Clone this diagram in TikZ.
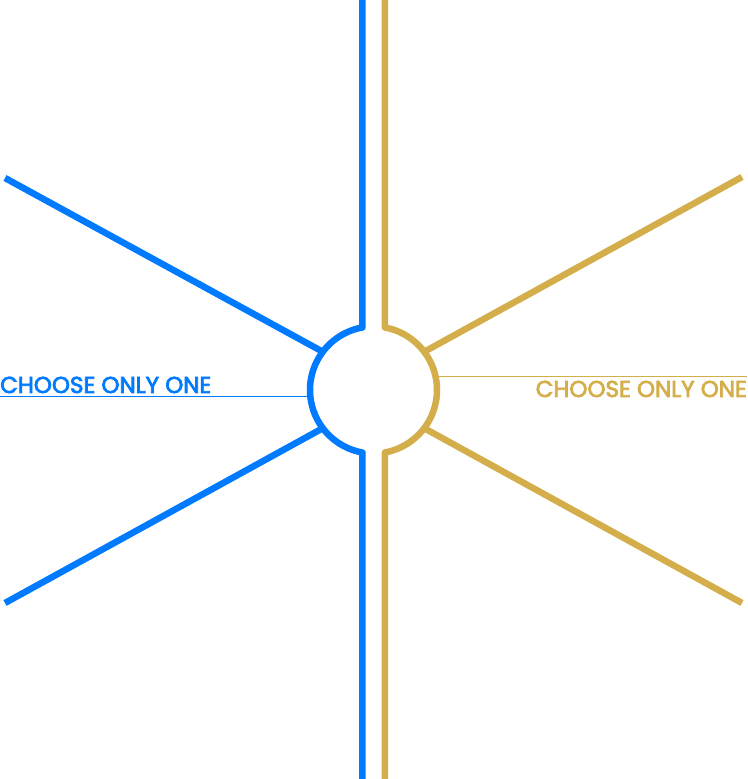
\documentclass[tikz,border=0pt]{standalone}
\usepackage{fontspec}
\setmainfont{Poppins}
\newfontfamily\pickfont{Poppins}[FakeBold=3.2]
\definecolor{pickblue}{RGB}{0,122,255}
\definecolor{pickgold}{RGB}{212,174,74}
\usetikzlibrary{calc}
\tikzset{
  spoke/.style={line width=6.5pt,line join=round},
  bluespoke/.style={spoke,draw=pickblue},
  goldspoke/.style={spoke,draw=pickgold},
  rule/.style={line width=1.1pt},
  pick/.style={font=\pickfont\fontsize{23}{25}\selectfont,inner sep=0pt},
}
\begin{document}
\begin{tikzpicture}[x=1pt,y=1pt]
    \useasboundingbox (0,0) rectangle (747,779);
    \coordinate (hub) at (373.5,389);
    % ends of the spokes
    \coordinate (ul) at (5,601);   \coordinate (ll) at (5,176);
    \coordinate (ur) at (742,602); \coordinate (lr) at (742,176);
    % points on the ring
    \coordinate (bt) at ($(hub)+(100:63.5)$);
    \coordinate (gt) at ($(hub)+(79.6:63.5)$);
    \coordinate (ulr) at ($(hub)+(143:63.5)$);
    \coordinate (llr) at ($(hub)+(217:63.5)$);
    \coordinate (urr) at ($(hub)+(37:63.5)$);
    \coordinate (lrr) at ($(hub)+(-37:63.5)$);
    \coordinate (bl) at ($(hub)+(185.5:63.5)$);
    \coordinate (gl) at ($(hub)+(12:63.5)$);
    % left half
    \draw[bluespoke] (bt |- 0,779) -- (bt)
      arc[start angle=100,end angle=260,radius=63.5] -- (bt |- 0,0);
    \draw[bluespoke] (ul) -- (ulr);
    \draw[bluespoke] (ll) -- (llr);
    % right half
    \draw[goldspoke] (gt |- 0,779) -- (gt)
      arc[start angle=79.6,end angle=-79.6,radius=63.5] -- (gt |- 0,0);
    \draw[goldspoke] (ur) -- (urr);
    \draw[goldspoke] (lr) -- (lrr);
    % labels
    \node[pick,text=pickblue,anchor=base west] (pickL) at (0,386) {CHOOSE ONLY ONE};
    \node[pick,text=pickgold,anchor=base east] (pickR) at (747,382) {CHOOSE ONLY ONE};
    \draw[rule,draw=pickblue] (bl -| 0,0) -- (bl);
    \draw[rule,draw=pickgold] (gl) -- (gl -| 747,0);
  \end{tikzpicture}
\end{document}
